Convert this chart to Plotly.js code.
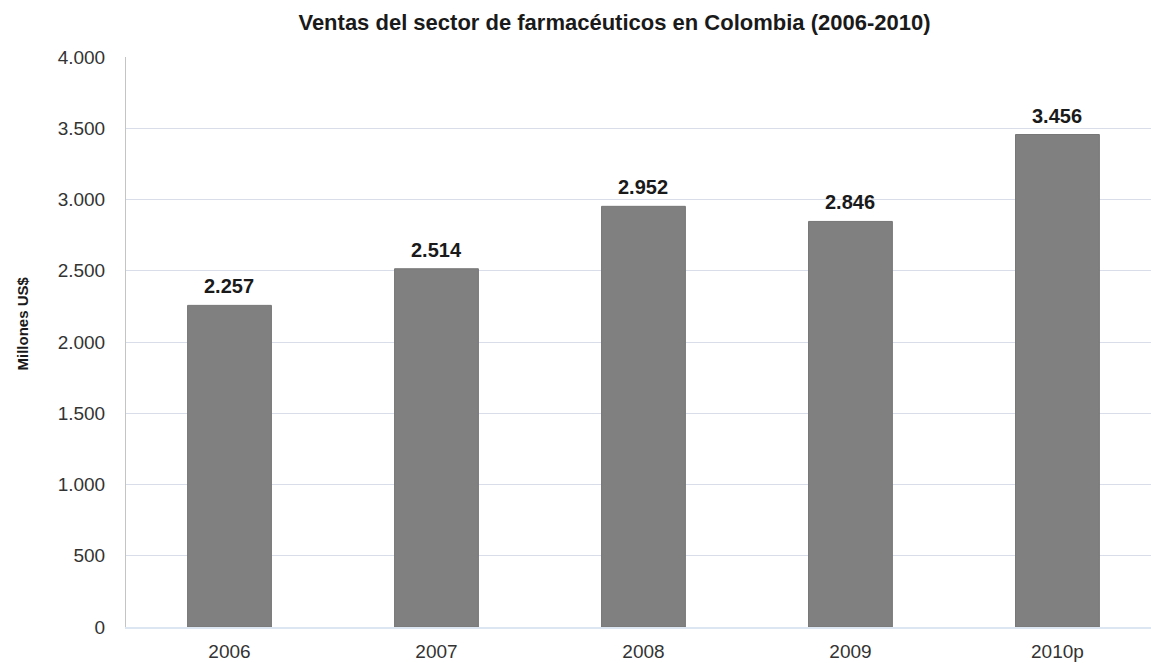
<!DOCTYPE html>
<html>
<head>
<meta charset="utf-8">
<script src="https://cdn.plot.ly/plotly-3.0.1.min.js"></script>
<style>html,body{margin:0;padding:0;background:#fff;}#chart{width:1151px;height:663px;}</style>
</head>
<body>
<div id="chart"></div>
<script>
const categories = ["2006", "2007", "2008", "2009", "2010p"];
const ventas = [2257, 2514, 2952, 2846, 3456];
const yTicks = [0, 500, 1000, 1500, 2000, 2500, 3000, 3500, 4000];

function fmt(v) {
  return String(v).replace(/\B(?=(\d{3})+(?!\d))/g, ".");
}

const trace = {
  type: "bar",
  x: categories,
  y: ventas,
  width: 0.405,
  marker: { color: "#808080", line: { color: "#767676", width: 1 } },
  hoverinfo: "skip"
};

const annotations = categories.map((c, i) => ({
  x: i, y: ventas[i], xref: "x", yref: "y",
  text: "<b>" + fmt(ventas[i]) + "</b>",
  showarrow: false, yanchor: "bottom", yshift: 6,
  font: { family: "Liberation Sans, Arial, sans-serif", size: 20, color: "#1a1a1a" }
}));

annotations.push({
  xref: "paper", yref: "paper",
  x: (22 - 126) / 1025, y: (627.5 - 324) / 570,
  xanchor: "center", yanchor: "middle",
  textangle: -90, showarrow: false,
  text: "<b>Millones US$</b>",
  font: { family: "Liberation Sans, Arial, sans-serif", size: 15, color: "#1a1a1a" }
});

const layout = {
  width: 1151, height: 663,
  margin: { l: 126, r: 0, t: 57, b: 36 },
  paper_bgcolor: "#fff", plot_bgcolor: "#fff",
  separators: ",.",
  showlegend: false,
  font: { family: "Liberation Sans, Arial, sans-serif", size: 19, color: "#333" },
  title: {
    text: "<b>Ventas del sector de farmacéuticos en Colombia (2006-2010)</b>",
    font: { size: 22, color: "#1a1a1a" },
    x: 614.5 / 1151, xref: "container", y: 1 - 22.5 / 663, yref: "container", yanchor: "middle", xanchor: "center"
  },
  xaxis: {
    type: "category",
    range: [-0.5, 4.452],
    showgrid: false, zeroline: false,
    showline: true, linecolor: "#dce6f2", linewidth: 2,
    ticks: "outside", ticklen: 6, tickcolor: "rgba(0,0,0,0)",
    tickfont: { size: 19, color: "#333" },
    fixedrange: true
  },
  yaxis: {
    range: [0, 4000],
    tickvals: yTicks,
    ticktext: yTicks.map(fmt),
    showgrid: true, gridcolor: "#d9dde9", gridwidth: 1,
    zeroline: false,
    showline: true, linecolor: "#c4c4c4", linewidth: 1,
    ticks: "outside", ticklen: 16, tickcolor: "rgba(0,0,0,0)",
    tickfont: { size: 19, color: "#333" },
    fixedrange: true
  },
  annotations: annotations
};

Plotly.newPlot("chart", [trace], layout, { displayModeBar: false, staticPlot: true });
</script>
</body>
</html>
